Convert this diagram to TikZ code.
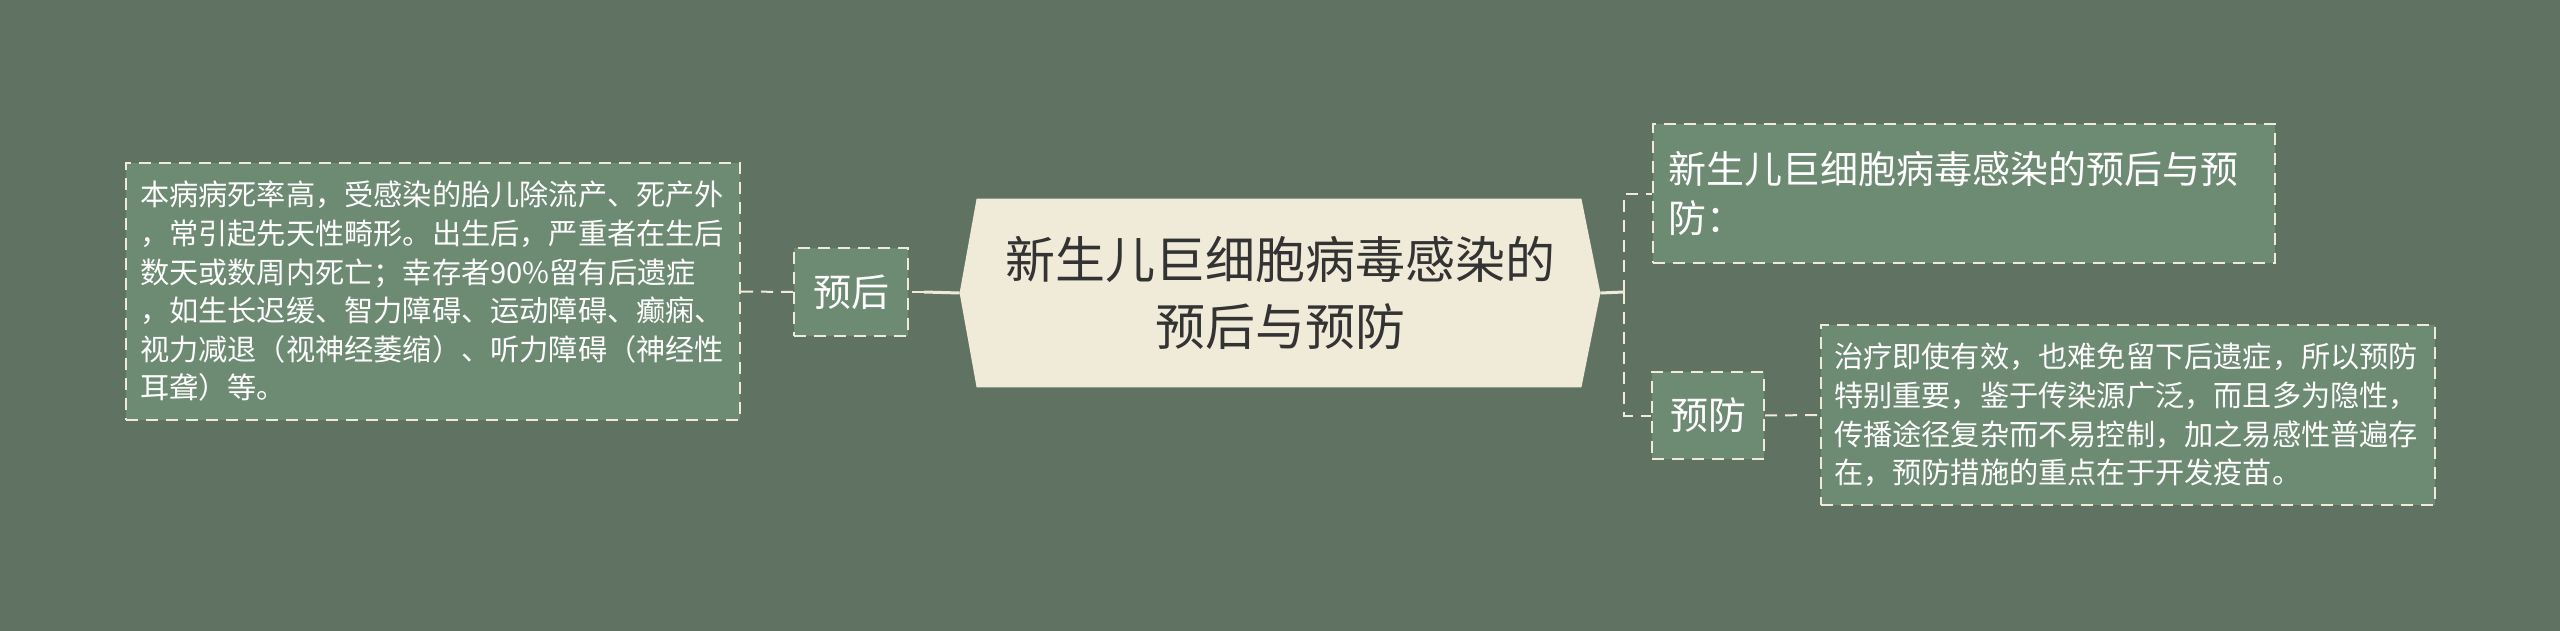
\documentclass[tikz,border=0pt]{standalone}
\usepackage{fontspec}
\setmainfont{Noto Sans CJK SC}
\usetikzlibrary{calc}
\definecolor{bgsage}{RGB}{96,114,98}
\definecolor{boxsage}{RGB}{109,138,114}
\definecolor{cream}{RGB}{240,234,216}
\definecolor{inkdark}{RGB}{51,51,51}
\tikzset{
  leafbox/.style={draw=cream, fill=boxsage, line width=1pt,
    dash pattern=on 6pt off 4pt, text=white, align=left,
    inner xsep=7pt, inner ysep=6pt, anchor=center},
  tagbox/.style={leafbox, align=center, font=\fontsize{19}{24}\selectfont,
    inner sep=0pt},
  linkline/.style={draw=cream, line width=1.5pt},
  dashlink/.style={draw=cream, line width=1pt, dash pattern=on 6pt off 4pt}
}
\begin{document}
\begin{tikzpicture}[x=0.5pt,y=-0.5pt]
            \fill[bgsage] (0,0) rectangle (2560,631);
            \useasboundingbox (0,0) rectangle (2560,631);

            % centre topic
            \node[minimum width=320pt, minimum height=94pt, inner sep=0pt,
                  align=center, text=inkdark, font=\fontsize{25}{33.5}\selectfont]
                  (title) at (1280,293) {};
            \fill[cream] (title.west) -- ($(title.north west)+(17,0)$)
                -- ($(title.north east)+(-19,0)$) -- (title.east)
                -- ($(title.south east)+(-19,0)$) -- ($(title.south west)+(17,0)$)
                -- cycle;
            \node[align=center, text=inkdark, font=\fontsize{25}{33.5}\selectfont]
                  at (title.center) {新生儿巨细胞病毒感染的\\预后与预防};

            % left branch
            \node[tagbox, minimum width=57pt, minimum height=44pt]
                  (prog) at (851,292) {预后};
            \node[leafbox, text width=293pt, minimum height=128.5pt,
                  font=\fontsize{14.6}{19.3}\selectfont]
                  (progtext) at (433,291.5)
                  {本病病死率高，受感染的胎儿除流产、死产外\\
                   ，常引起先天性畸形。出生后，严重者在生后\\
                   数天或数周内死亡；幸存者90\%留有后遗症\\
                   ，如生长迟缓、智力障碍、运动障碍、癫痫、\\
                   视力减退（视神经萎缩）、听力障碍（神经性\\
                   耳聋）等。};

            % right branch
            \node[leafbox, text width=295pt, minimum height=69.5pt,
                  inner xsep=8pt, font=\fontsize{19}{24.5}\selectfont]
                  (headline) at (1963.5,193.5)
                  {新生儿巨细胞病毒感染的预后与预\\防：};
            \node[tagbox, minimum width=56pt, minimum height=43.5pt]
                  (prev) at (1708,415.5) {预防};
            \node[leafbox, text width=294pt, minimum height=90pt,
                  inner xsep=6.5pt, font=\fontsize{14.6}{19.3}\selectfont]
                  (prevtext) at (2128,415)
                  {治疗即使有效，也难免留下后遗症，所以预防\\
                   特别重要，鉴于传染源广泛，而且多为隐性，\\
                   传播途径复杂而不易控制，加之易感性普遍存\\
                   在，预防措施的重点在于开发疫苗。};

            % connectors
            \coordinate (ljoin) at (924,292);
            \coordinate (rjoin) at (1624,292);
            \draw[linkline] (title.west) -- (ljoin);
            \draw[dashlink] (ljoin) -- (prog.east);
            \draw[dashlink] (prog.west) -- (progtext.east);
            \draw[linkline] (title.east) -- (rjoin);
            \draw[dashlink] (rjoin) |- (headline.west);
            \draw[dashlink] (rjoin) |- (prev.west);
            \draw[dashlink] (prev.east) -- (prevtext.west);
        \end{tikzpicture}
\end{document}
